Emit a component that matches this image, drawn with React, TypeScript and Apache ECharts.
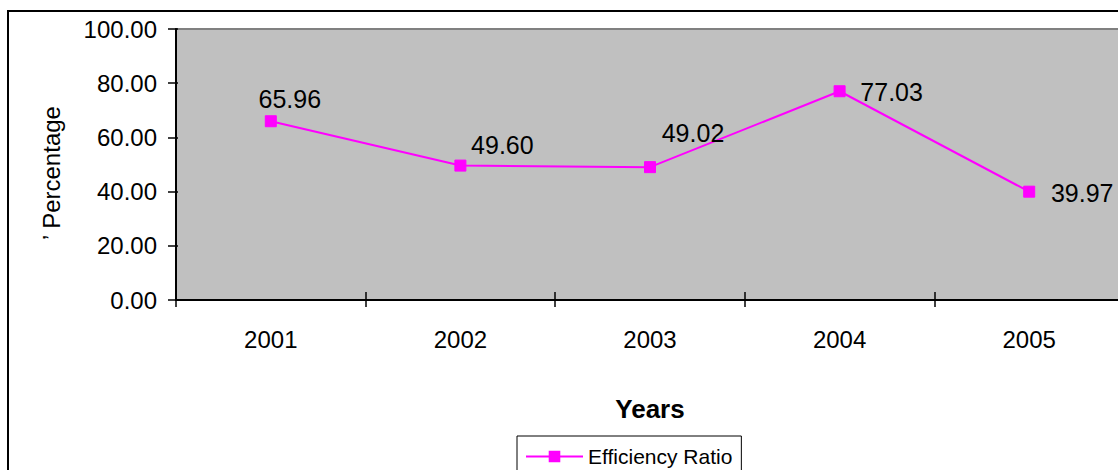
import React, { useEffect, useRef } from "react";
import * as echarts from "echarts";

// Efficiency ratio by year
const years = ["2001", "2002", "2003", "2004", "2005"];
const efficiencyRatio = [65.96, 49.6, 49.02, 77.03, 39.97];
const yTicks = { min: 0, max: 100, interval: 20 };
const yAxisTitle = "\u2019 Percentage";
// data-label nudges (px) from each marker
const labelOffsets: [number, number][] = [
  [19, -22],
  [42, -21],
  [43, -34],
  [52, 1],
  [53, 1],
];

const FONT = "'Liberation Sans', Arial, sans-serif";
const MAGENTA = "#ff00ff";

export default function App() {
  const ref = useRef<HTMLDivElement>(null);

  useEffect(() => {
    document.body.style.margin = "0";
    document.body.style.overflow = "hidden";
    const chart = echarts.init(ref.current!, null, { renderer: "svg" });
    chart.setOption({
      animation: false,
      backgroundColor: "#ffffff",
      textStyle: { fontFamily: FONT, color: "#000" },
      grid: {
        left: 176,
        top: 29,
        width: 948,
        bottom: 170,
        show: true,
        backgroundColor: "#c0c0c0",
        borderColor: "#808080",
        borderWidth: 2,
      },
      legend: {
        left: 517,
        top: 436,
        padding: [10, 9, 14, 8],
        borderColor: "#000",
        borderWidth: 1,
        itemWidth: 57,
        itemHeight: 12,
        textStyle: { fontFamily: FONT, fontSize: 21, color: "#000" },
        data: ["Efficiency Ratio"],
      },
      xAxis: [
        {
          type: "category",
          data: years,
          boundaryGap: true,
          axisLine: { lineStyle: { color: "#000", width: 2 } },
          axisTick: { show: true, inside: false, length: 7, lineStyle: { color: "#000", width: 1.5 } },
          axisLabel: { fontFamily: FONT, fontSize: 24, color: "#000", margin: 27 },
          name: "Years",
          nameLocation: "middle",
          nameGap: 96,
          nameTextStyle: { fontFamily: FONT, fontSize: 26, fontWeight: "bold", color: "#000" },
          splitLine: { show: false },
        },
        {
          type: "category",
          data: years,
          position: "bottom",
          boundaryGap: true,
          axisLine: { show: false },
          axisTick: { show: true, inside: true, length: 8, lineStyle: { color: "#000", width: 1.5 } },
          axisLabel: { show: false },
          splitLine: { show: false },
        },
      ],
      yAxis: [
        {
          type: "value",
          ...yTicks,
          axisLine: { show: true, lineStyle: { color: "#000", width: 2 } },
          axisTick: { show: true, inside: false, length: 8, lineStyle: { color: "#000", width: 1.5 } },
          axisLabel: {
            fontFamily: FONT,
            fontSize: 24,
            color: "#000",
            margin: 19,
            formatter: (v: number) => v.toFixed(2),
          },
          splitLine: { show: false },
        },
        {
          type: "value",
          ...yTicks,
          position: "left",
          axisLine: { show: false },
          axisTick: { show: true, inside: true, length: 2, lineStyle: { color: "#000", width: 1.5 } },
          axisLabel: { show: false },
          splitLine: { show: false },
        },
      ],
      series: [
        {
          name: "Efficiency Ratio",
          type: "line",
          xAxisIndex: 0,
          yAxisIndex: 0,
          data: efficiencyRatio.map((v, i) => ({
            value: v,
            label: { offset: labelOffsets[i] },
          })),
          symbol: "rect",
          symbolSize: 11,
          showAllSymbol: true,
          lineStyle: { color: MAGENTA, width: 2 },
          itemStyle: { color: MAGENTA, borderColor: MAGENTA, borderWidth: 1 },
          label: {
            show: true,
            position: "inside",
            fontFamily: FONT,
            fontSize: 25,
            color: "#000",
            formatter: (p: any) => Number(p.value).toFixed(2),
          },
        },
      ],
      graphic: [
        {
          type: "text",
          x: 51,
          y: 173,
          rotation: Math.PI / 2,
          style: {
            text: yAxisTitle,
            fontFamily: FONT,
            fontSize: 24,
            fill: "#000",
            align: "center",
            verticalAlign: "middle",
          },
          silent: true,
        },
        {
          type: "rect",
          shape: { x: 8, y: 11, width: 1150, height: 500 },
          style: { fill: "none", stroke: "#000", lineWidth: 2 },
          z: 100,
          silent: true,
        },
      ],
    });
    return () => chart.dispose();
  }, []);

  return <div ref={ref} style={{ width: 1130, height: 470 }} />;
}
